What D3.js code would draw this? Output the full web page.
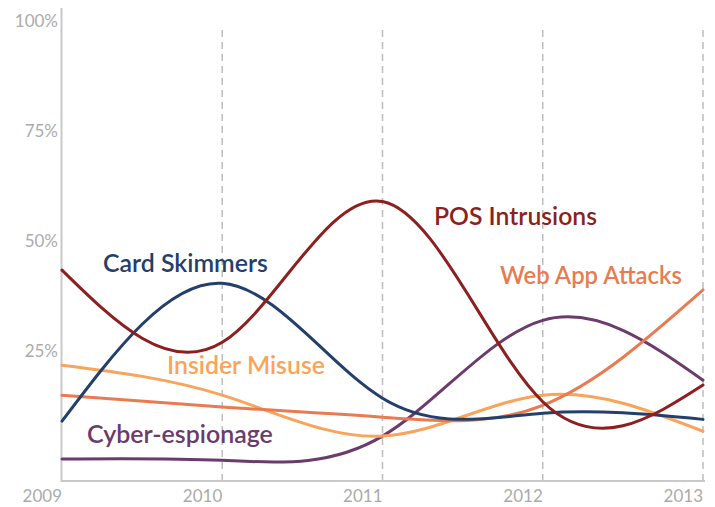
<!DOCTYPE html>
<html><head><meta charset="utf-8">
<script src="https://cdn.jsdelivr.net/npm/d3@7"></script>
<style>
html,body{margin:0;padding:0;background:#fff;}
svg{display:block;}
</style></head>
<body>
<svg id="chart" width="715" height="507"></svg>
<script>
const years = [2009, 2010, 2011, 2012, 2013];
const yTicks = [25, 50, 75, 100];
const seriesNames = ["Cyber-espionage", "Insider Misuse", "Web App Attacks", "Card Skimmers", "POS Intrusions"];
const cyberEspionage = [0.5, 0.2, 5.7, 32, 18.4];
const insiderMisuse = [21.8, 15, 5.7, 15, 6.8];
const webAppAttacks = [15, 12.3, 10, 12.7, 38.9];
const cardSkimmers = [9.1, 40.4, 14.3, 10.9, 9.5];
const posIntrusions = [43.4, 27, 59, 13.5, 17.3];
const seriesValues = [cyberEspionage, insiderMisuse, webAppAttacks, cardSkimmers, posIntrusions];
const colors = ["#6b3b6c", "#f9a35b", "#e97b50", "#233f6b", "#8c1f1f"];
// label placement (left x, baseline y, target width)
const labelPos = [
  {x: 87, y: 443, w: 186},
  {x: 167, y: 374, w: 158},
  {x: 500, y: 284, w: 182},
  {x: 103, y: 272, w: 165},
  {x: 434, y: 225, w: 163}
];

const svg = d3.select("#chart");
const x = d3.scaleLinear().domain([2009, 2013]).range([62, 703]);
const y = d3.scaleLinear().domain([-4.5, 100]).range([481, 21]);

// dashed verticals
svg.append("g").selectAll("line").data(years.slice(1)).join("line")
  .attr("x1", d => x(d)).attr("x2", d => x(d))
  .attr("y1", 30).attr("y2", 481)
  .attr("stroke", "#bdbdbd").attr("stroke-width", 1.5)
  .attr("stroke-dasharray", "7,5");

// axes lines
svg.append("line").attr("x1", 61.5).attr("x2", 61.5).attr("y1", 8).attr("y2", 482)
  .attr("stroke", "#c9c9c9").attr("stroke-width", 2);
svg.append("line").attr("x1", 61).attr("x2", 705).attr("y1", 481).attr("y2", 481)
  .attr("stroke", "#c9c9c9").attr("stroke-width", 2);

// y tick labels
svg.append("g").selectAll("text").data(yTicks).join("text")
  .attr("x", 58).attr("y", d => y(d)).attr("dy", "0.36em")
  .attr("text-anchor", "end")
  .attr("font-family", "Lato, sans-serif").attr("font-size", 17)
  .attr("fill", "#ababab")
  .text(d => d + "%");

// x tick labels
svg.append("g").selectAll("text").data(years).join("text")
  .attr("x", d => x(d)).attr("y", 502)
  .attr("text-anchor", "end")
  .attr("font-family", "Lato, sans-serif").attr("font-size", 17)
  .attr("fill", "#ababab")
  .text(d => d);

const line = d3.line().x((d, i) => x(years[i])).y(d => y(d)).curve(d3.curveNatural);

svg.append("g").selectAll("path").data(seriesValues).join("path")
  .attr("d", d => line(d))
  .attr("fill", "none")
  .attr("stroke", (d, i) => colors[i])
  .attr("stroke-width", 3)
  .attr("stroke-linecap", "round");

// series labels
seriesNames.forEach((name, i) => {
  const t = svg.append("text")
    .attr("x", labelPos[i].x).attr("y", labelPos[i].y)
    .attr("font-family", "Lato, sans-serif").attr("font-size", 24)
    .attr("font-weight", 600)
    .attr("fill", colors[i])
    .text(name);
  const w = t.node().getComputedTextLength();
  t.attr("font-size", 24 * labelPos[i].w / w);
});
</script>
</body></html>
